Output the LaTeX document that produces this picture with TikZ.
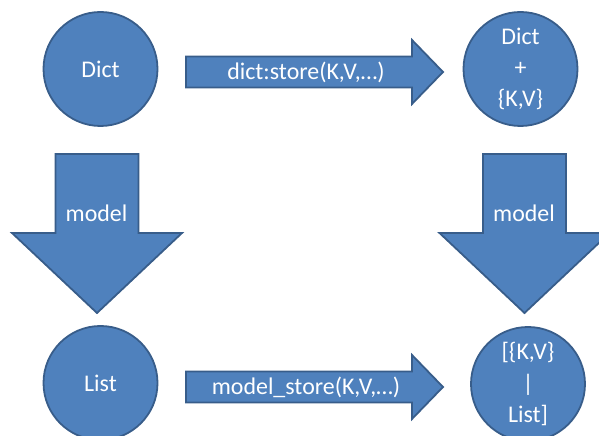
\documentclass[tikz,border=0pt]{standalone}
\usepackage{fontspec}
\setmainfont{Carlito}

\begin{document}
\begin{tikzpicture}[x=1bp,y=1bp,every node/.style={font=\fontsize{24}{31.5}\selectfont,text=white,align=center,inner sep=0}]
\path[use as bounding box] (0,0) rectangle (599,436);
\definecolor{fillblue}{HTML}{4F81BD}
\definecolor{edgeblue}{HTML}{385D8A}
\tikzset{blob/.style={circle,minimum size=114bp,fill=fillblue,draw=edgeblue,line width=1.8bp},
  fat/.style={fill=fillblue,draw=edgeblue,line width=1.8bp,line join=miter}}
% block arrows, left to right and top to bottom
\foreach \y in {364,49}{\draw[fat] (186,\y-15.5) -- (412,\y-15.5) -- (412,\y-32) -- (443,\y) -- (412,\y+32) -- (412,\y+15.5) -- (186,\y+15.5) -- cycle;}
\foreach \x in {97,524.5}{\draw[fat] (\x-41.5,282) -- (\x+41.5,282) -- (\x+41.5,203) -- (\x+85,203) -- (\x,123) -- (\x-85,203) -- (\x-41.5,203) -- cycle;}
% the four states
\node[blob] (dict) at (100.5,367) {Dict};
\node[blob] (dictkv) at (520.5,367) {Dict\\+\\\{K,V\}};
\node[blob] (list) at (100.5,53) {List};
\node[blob] (listkv) at (528,52) {[\{K,V\}\\|\\List]};
% arrow labels
\node[anchor=base] (store) at (306,356) {dict:store(K,V,…)};
\node[anchor=base] (modelstore) at (306,41) {model\_store(K,V,…)};
\node[anchor=base] (modelL) at (96.5,214) {model};
\node[anchor=base] (modelR) at (524,214) {model};
\end{tikzpicture}
\end{document}
